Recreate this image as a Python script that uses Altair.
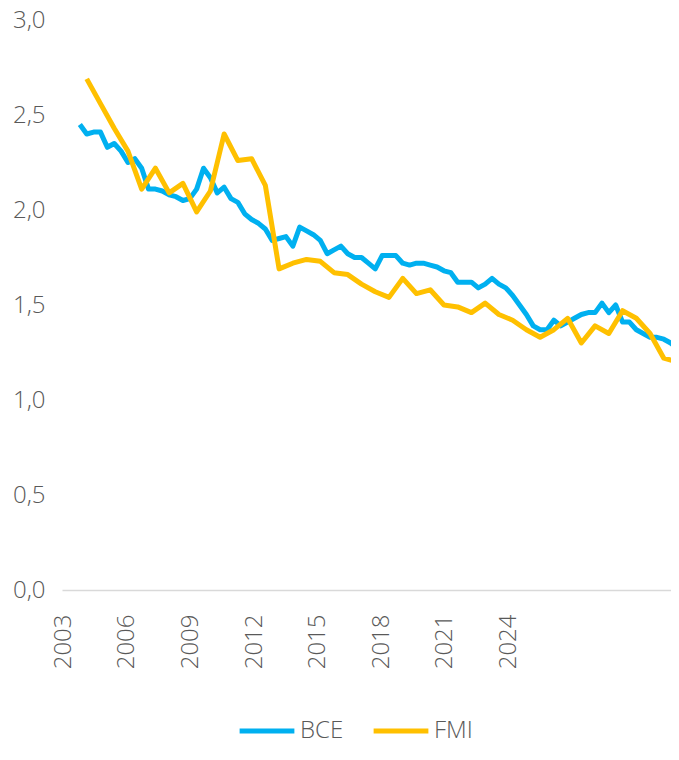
import json
import altair as alt
import pandas as pd

# Series names and colours
SERIES = ["BCE", "FMI"]
COLORS = ["#00B0F0", "#FFC000"]

# BCE: quarterly values, 2003T1 .. 2024T4 (quarter index 0..87)
BCE = [2.45, 2.40, 2.41, 2.41, 2.33, 2.35, 2.31, 2.25, 2.27, 2.22,
       2.11, 2.11, 2.10, 2.08, 2.07, 2.05, 2.06, 2.11, 2.22, 2.17,
       2.09, 2.12, 2.06, 2.04, 1.98, 1.95, 1.93, 1.90, 1.84, 1.85,
       1.86, 1.81, 1.91, 1.89, 1.87, 1.84, 1.77, 1.79, 1.81, 1.77,
       1.75, 1.75, 1.72, 1.69, 1.76, 1.76, 1.76, 1.72, 1.71, 1.72,
       1.72, 1.71, 1.70, 1.68, 1.67, 1.62, 1.62, 1.62, 1.59, 1.61,
       1.64, 1.61, 1.59, 1.55, 1.50, 1.45, 1.39, 1.37, 1.37, 1.42,
       1.39, 1.41, 1.43, 1.45, 1.46, 1.46, 1.51, 1.46, 1.50, 1.41,
       1.41, 1.37, 1.35, 1.33, 1.33, 1.32, 1.30, 1.27]

# FMI: semi-annual values (April / October), quarter index 1, 3, 5, ...
FMI = [2.69, 2.56, 2.43, 2.31, 2.11, 2.22, 2.09, 2.14, 1.99, 2.10,
       2.40, 2.26, 2.27, 2.13, 1.69, 1.72, 1.74, 1.73, 1.67, 1.66,
       1.61, 1.57, 1.54, 1.64, 1.56, 1.58, 1.50, 1.49, 1.46, 1.51,
       1.45, 1.42, 1.37, 1.33, 1.37, 1.43, 1.30, 1.39, 1.35, 1.47,
       1.43, 1.35, 1.22, 1.20]

# Category-axis labels (as positioned in the original)
TICK_LABELS = ["2003", "2006", "2009", "2012", "2015", "2018", "2021", "2024"]
TICK_START = -2.4
TICK_STEP = 9.25
TICK_POS = [round(TICK_START + TICK_STEP * i, 3) for i in range(len(TICK_LABELS))]

Y_TICKS = [0.0, 0.5, 1.0, 1.5, 2.0, 2.5, 3.0]

rows = [{"serie": "BCE", "t": i, "valor": v} for i, v in enumerate(BCE)]
rows += [{"serie": "FMI", "t": 1 + 2 * k, "valor": v} for k, v in enumerate(FMI)]
df = pd.DataFrame(rows)

FONT = "Open Sans"
GREY = "#595959"
FS = 24

label_expr_x = json.dumps(TICK_LABELS) + "[round((datum.value - (%s)) / %s)]" % (TICK_START, TICK_STEP)

chart = alt.Chart(df).mark_line(strokeWidth=5, strokeJoin="round", clip=True).encode(
    x=alt.X("t:Q",
            scale=alt.Scale(domain=[-2.6, 86.05], nice=False, zero=False),
            axis=alt.Axis(values=TICK_POS, labelExpr=label_expr_x, labelAngle=-90,
                          labelPadding=24, ticks=False, grid=False, labelFlush=False,
                          labelOverlap=False, domainColor="#D9D9D9", domainWidth=1.5,
                          labelFontSize=FS, labelColor=GREY, labelFont=FONT,
                          labelFontWeight=300, title=None)),
    y=alt.Y("valor:Q",
            scale=alt.Scale(domain=[0, 3], nice=False),
            axis=alt.Axis(values=Y_TICKS,
                          labelExpr="replace(format(datum.value, '.1f'), '.', ',')",
                          domain=False, ticks=False, grid=False, labelPadding=17,
                          labelFontSize=FS, labelColor=GREY, labelFont=FONT,
                          labelFontWeight=300, title=None)),
    color=alt.Color("serie:N",
                    scale=alt.Scale(domain=SERIES, range=COLORS),
                    legend=alt.Legend(orient="none", legendX=175, legendY=681,
                                      direction="horizontal", title=None,
                                      symbolType="stroke", symbolSize=3000,
                                      symbolStrokeWidth=5, labelFontSize=FS,
                                      labelFont=FONT, labelFontWeight=300,
                                      labelColor=GREY, labelOffset=3,
                                      columnPadding=19)),
).properties(
    width=609,
    height=570,
    autosize=alt.AutoSizeParams(type="none"),
    padding={"left": 54, "top": 12, "right": 0, "bottom": 157},
).configure_view(stroke=None)

chart.save("out.html", embed_options={"renderer": "svg", "actions": False})
